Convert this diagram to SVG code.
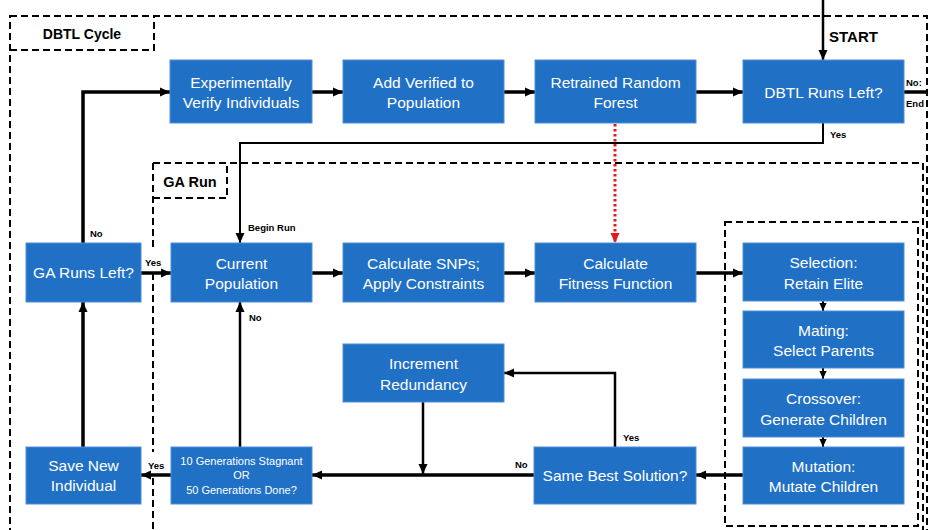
<svg xmlns="http://www.w3.org/2000/svg" width="930" height="530" viewBox="0 0 930 530">
<defs>
<marker id="ah" viewBox="0 0 10 10" refX="10" refY="5" markerWidth="10" markerHeight="10" markerUnits="userSpaceOnUse" orient="auto"><path d="M0,0.5 L10,5 L0,9.5 z" fill="#000"/></marker>
<marker id="ahs" viewBox="0 0 10 10" refX="10" refY="5" markerWidth="8" markerHeight="8" markerUnits="userSpaceOnUse" orient="auto"><path d="M0,0.5 L10,5 L0,9.5 z" fill="#000"/></marker>
<marker id="ahr" viewBox="0 0 10 10" refX="10" refY="5" markerWidth="10" markerHeight="10" markerUnits="userSpaceOnUse" orient="auto"><path d="M0,0.5 L10,5 L0,9.5 z" fill="#e3181c"/></marker>
</defs>
<style>
.box{fill:#2070c6;stroke:#4d8fd8;stroke-width:1}
.t{font-family:"Liberation Sans",Arial,sans-serif;font-size:15.5px;fill:#fff;text-anchor:middle}
.ts{font-family:"Liberation Sans",Arial,sans-serif;font-size:11px;fill:#fff;text-anchor:middle}
.lbl{font-family:"Liberation Sans",Arial,sans-serif;font-size:9.5px;font-weight:bold;fill:#000}
.title{font-family:"Liberation Sans",Arial,sans-serif;font-weight:bold;fill:#000}
.dash{fill:none;stroke:#000;stroke-width:2;stroke-dasharray:7 4}
.c{fill:none;stroke:#000;stroke-width:3.5}
.cn{fill:none;stroke:#000;stroke-width:2.5}
.cs{fill:none;stroke:#000;stroke-width:2}
.red{fill:none;stroke:#e3181c;stroke-width:3;stroke-dasharray:2.5 2.5}
</style>

<g id="frames">
<rect class="dash" x="10" y="16" width="917" height="525"/>
<path class="dash" d="M10,50 H154 V16"/>
<text class="title" x="82" y="39" font-size="14" text-anchor="middle">DBTL Cycle</text>
<path class="dash" d="M153,163 H923 V540"/>
<path class="dash" d="M153,163 V251 M153,273 V452 M153,478 V540"/>
<path class="dash" d="M153,198 H227 V163"/>
<text class="title" x="190" y="187" font-size="14.5" text-anchor="middle">GA Run</text>
<rect class="dash" x="725" y="222" width="193" height="304"/>
<text class="title" x="829" y="42" font-size="15">START</text>
</g>

<g id="connectors">
<path class="cn" d="M823,0 V60" marker-end="url(#ah)"/>
<path class="c" d="M312,92 H343" marker-end="url(#ah)"/>
<path class="c" d="M504,92 H535" marker-end="url(#ah)"/>
<path class="c" d="M696,92 H743" marker-end="url(#ah)"/>
<path class="c" d="M904,92 H927"/>
<path class="cs" d="M823,123 V143 H240 V243" marker-end="url(#ah)"/>
<path class="red" d="M615,124 V243" marker-end="url(#ahr)"/>
<path class="c" d="M83,243 V92 H170" marker-end="url(#ah)"/>
<path class="c" d="M141,273 H171" marker-end="url(#ah)"/>
<path class="c" d="M312,273 H343" marker-end="url(#ah)"/>
<path class="c" d="M504,273 H535" marker-end="url(#ah)"/>
<path class="c" d="M696,273 H743" marker-end="url(#ah)"/>
<path class="cs" d="M823,301 V311" marker-end="url(#ahs)"/>
<path class="cs" d="M823,368 V379" marker-end="url(#ahs)"/>
<path class="cs" d="M823,437 V447" marker-end="url(#ahs)"/>
<path class="c" d="M743,475 H696" marker-end="url(#ah)"/>
<path class="c" d="M534,475 H312" marker-end="url(#ah)"/>
<path class="cn" d="M423,402 V474" marker-end="url(#ah)"/>
<path class="cn" d="M615,447 V373 H504" marker-end="url(#ah)"/>
<path class="c" d="M171,475 H141" marker-end="url(#ah)"/>
<path class="cn" d="M240,447 V302" marker-end="url(#ah)"/>
<path class="c" d="M83,447 V302" marker-end="url(#ah)"/>
</g>

<g id="labels">
<text class="lbl" x="906" y="86">No:</text>
<text class="lbl" x="906" y="107">End</text>
<text class="lbl" x="830" y="138">Yes</text>
<text class="lbl" x="248" y="231">Begin Run</text>
<text class="lbl" x="90" y="237">No</text>
<text class="lbl" x="145" y="266">Yes</text>
<text class="lbl" x="249" y="321">No</text>
<text class="lbl" x="148" y="469">Yes</text>
<text class="lbl" x="515" y="468">No</text>
<text class="lbl" x="623" y="441">Yes</text>
</g>

<g id="n-verify"><rect class="box" x="170" y="60" width="142" height="63"/><text class="t" x="241" y="87.5">Experimentally</text><text class="t" x="241" y="108">Verify Individuals</text></g>
<g id="n-addverified"><rect class="box" x="343" y="60" width="161" height="63"/><text class="t" x="423.5" y="87.5">Add Verified to</text><text class="t" x="423.5" y="108">Population</text></g>
<g id="n-forest"><rect class="box" x="535" y="60" width="161" height="63"/><text class="t" x="615.5" y="87.5">Retrained Random</text><text class="t" x="615.5" y="108">Forest</text></g>
<g id="n-dbtlleft"><rect class="box" x="743" y="60" width="161" height="63"/><text class="t" x="823.5" y="98">DBTL Runs Left?</text></g>

<g id="n-galeft"><rect class="box" x="26" y="243" width="115" height="59"/><text class="t" x="83.5" y="278">GA Runs Left?</text></g>
<g id="n-current"><rect class="box" x="171" y="243" width="141" height="59"/><text class="t" x="241.5" y="268.5">Current</text><text class="t" x="241.5" y="289">Population</text></g>
<g id="n-snps"><rect class="box" x="343" y="243" width="161" height="59"/><text class="t" x="423.5" y="268.5">Calculate SNPs;</text><text class="t" x="423.5" y="289">Apply Constraints</text></g>
<g id="n-fitness"><rect class="box" x="535" y="243" width="161" height="59"/><text class="t" x="615.5" y="268.5">Calculate</text><text class="t" x="615.5" y="289">Fitness Function</text></g>

<g id="n-selection"><rect class="box" x="743" y="243" width="161" height="58"/><text class="t" x="823.5" y="268">Selection:</text><text class="t" x="823.5" y="288.5">Retain Elite</text></g>
<g id="n-mating"><rect class="box" x="743" y="311" width="161" height="57"/><text class="t" x="823.5" y="335.5">Mating:</text><text class="t" x="823.5" y="356">Select Parents</text></g>
<g id="n-crossover"><rect class="box" x="743" y="379" width="161" height="58"/><text class="t" x="823.5" y="404">Crossover:</text><text class="t" x="823.5" y="424.5">Generate Children</text></g>
<g id="n-mutation"><rect class="box" x="743" y="447" width="161" height="57"/><text class="t" x="823.5" y="471.5">Mutation:</text><text class="t" x="823.5" y="492">Mutate Children</text></g>

<g id="n-increment"><rect class="box" x="343" y="344" width="161" height="58"/><text class="t" x="423.5" y="368.5">Increment</text><text class="t" x="423.5" y="390">Redundancy</text></g>
<g id="n-samebest"><rect class="box" x="534" y="447" width="162" height="57"/><text class="t" x="615" y="481">Same Best Solution?</text></g>
<g id="n-stagnant"><rect class="box" x="171" y="447" width="141" height="57"/><text class="ts" x="241.5" y="465">10 Generations Stagnant</text><text class="ts" x="241.5" y="479">OR</text><text class="ts" x="241.5" y="494">50 Generations Done?</text></g>
<g id="n-save"><rect class="box" x="26" y="447" width="115" height="57"/><text class="t" x="83.5" y="470.5">Save New</text><text class="t" x="83.5" y="491">Individual</text></g>
</svg>
